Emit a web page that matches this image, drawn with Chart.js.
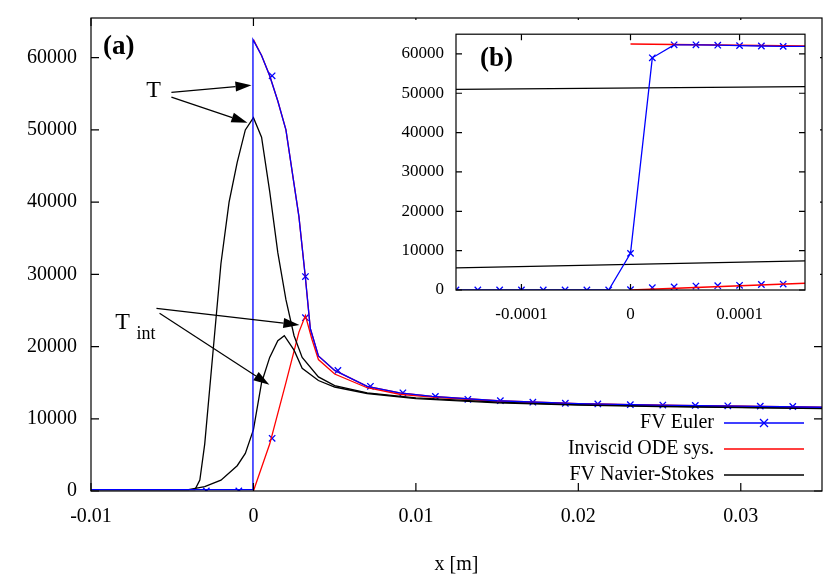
<!DOCTYPE html>
<html>
<head>
<meta charset="utf-8">
<script src="https://cdn.jsdelivr.net/npm/chart.js@4"></script>
<style>
  body { margin: 0; background: #fff; }
  #wrap { position: relative; width: 830px; height: 581px; }
  #main { position: absolute; left: 0; top: 0; }
  #inset { position: absolute; left: 400px; top: 20px; }
</style>
</head>
<body>
<div id="wrap">
  <canvas id="main" width="830" height="581"></canvas>
  <canvas id="inset" width="420" height="312"></canvas>
</div>
<script>
const FONT = '"Liberation Serif", "DejaVu Serif", serif';

// main panel (a)
const odeTX = [0, 0.0005, 0.001, 0.0015, 0.002, 0.0025, 0.0028, 0.0032, 0.0035, 0.004, 0.005, 0.007, 0.009, 0.011, 0.015, 0.02, 0.025, 0.03, 0.035];
const odeTY = [62500, 60300, 57500, 54000, 50000, 42500, 38000, 29500, 22500, 18700, 16700, 14500, 13600, 13100, 12500, 12100, 11900, 11750, 11600];
const odeTintX = [0, 0.001, 0.002, 0.0028, 0.0032, 0.0036, 0.004, 0.005, 0.007, 0.009, 0.011, 0.015, 0.02, 0.025, 0.03, 0.035];
const odeTintY = [0, 6500, 15000, 22000, 24300, 21000, 18200, 16200, 14300, 13400, 13000, 12400, 12050, 11850, 11700, 11550];
const nsTX = [-0.01, -0.0036, -0.0033, -0.003, -0.0025, -0.002, -0.0015, -0.001, -0.0005, 0, 0.0005, 0.001, 0.0015, 0.002, 0.0025, 0.003, 0.004, 0.005, 0.007, 0.01, 0.015, 0.02, 0.025, 0.03, 0.035];
const nsTY = [200, 200, 1500, 6500, 19000, 31500, 40000, 45500, 50000, 51700, 49000, 41500, 33000, 26500, 21500, 18500, 15800, 14600, 13600, 12900, 12300, 11950, 11750, 11600, 11450];
const nsTintX = [-0.01, -0.004, -0.003, -0.002, -0.001, -0.0005, 0, 0.0005, 0.001, 0.0015, 0.0019, 0.0025, 0.003, 0.004, 0.005, 0.007, 0.01, 0.015, 0.02, 0.025, 0.03, 0.035];
const nsTintY = [200, 200, 600, 1500, 3500, 5200, 8500, 15000, 18500, 20800, 21500, 19500, 17000, 15300, 14400, 13500, 12800, 12200, 11900, 11700, 11550, 11400];
const eulerMarkX = [-0.0029, -0.0009, 0.00115, 0.0032, 0.0052, 0.0072, 0.0092, 0.0112, 0.0132, 0.0152, 0.0172, 0.0192, 0.0212, 0.0232, 0.0252, 0.0272, 0.0292, 0.0312, 0.0332];
const eulerMarkY = [0, 0, 57500, 29700, 16700, 14500, 13600, 13100, 12700, 12500, 12300, 12150, 12050, 11950, 11900, 11850, 11800, 11750, 11700];
const eulerTintMarkX = [0.00115, 0.0032];
const eulerTintMarkY = [7300, 24000];
const mainXTicks = [-0.01, 0, 0.01, 0.02, 0.03];
const mainYTicks = [0, 10000, 20000, 30000, 40000, 50000, 60000];

// inset panel (b)
const inEulerX = [-0.00016, -0.00014, -0.00012, -0.0001, -0.00008, -0.00006, -0.00004, -0.00002, 0, 0.00002, 0.00004, 0.00006, 0.00008, 0.0001, 0.00012, 0.00014];
const inEulerY = [0, 0, 0, 0, 0, 0, 0, 0, 9300, 59000, 62300, 62300, 62200, 62100, 62000, 61900];
const inEulerTintX = [0, 0.00002, 0.00004, 0.00006, 0.00008, 0.0001, 0.00012, 0.00014];
const inEulerTintY = [100, 600, 800, 1000, 1100, 1200, 1400, 1500];
const inOdeX = [0, 0.00016];
const inOdeTY = [62500, 62000];
const inOdeTintY = [0, 1700];
const inNsX = [-0.00016, 0.00016];
const inNsTY = [51000, 51700];
const inNsTintY = [5600, 7400];
const insetXTicks = [-0.0001, 0, 0.0001];

const legendLabels = ['FV Euler', 'Inviscid ODE sys.', 'FV Navier-Stokes'];
const legendColors = ['#0000ff', '#ff0000', '#000000'];

const pts = (xs, ys) => xs.map((x, i) => ({ x, y: ys[i] }));

function lineSet(data, color, width) {
  return { data, showLine: true, borderColor: color, borderWidth: width || 1.3, pointRadius: 0, fill: false, tension: 0 };
}
function markSet(data) {
  return { data, showLine: false, pointStyle: 'crossRot', pointRadius: 4.5, borderColor: '#0000ff', borderWidth: 1.3 };
}

// gnuplot style frame with inward ticks on all sides
const framePlugin = {
  id: 'frame',
  afterDraw(chart) {
    const { ctx, chartArea: a, scales } = chart;
    const len = chart.options.tickIn || 8;
    ctx.save();
    ctx.strokeStyle = '#000';
    ctx.lineWidth = 1.2;
    ctx.strokeRect(a.left, a.top, a.right - a.left, a.bottom - a.top);
    ctx.beginPath();
    scales.x.ticks.forEach(t => {
      const px = scales.x.getPixelForValue(t.value);
      ctx.moveTo(px, a.bottom); ctx.lineTo(px, a.bottom - len);
      ctx.moveTo(px, a.top); ctx.lineTo(px, a.top + len);
    });
    scales.y.ticks.forEach(t => {
      const py = scales.y.getPixelForValue(t.value);
      ctx.moveTo(a.left, py); ctx.lineTo(a.left + len, py);
      ctx.moveTo(a.right, py); ctx.lineTo(a.right - len, py);
    });
    ctx.stroke();
    ctx.restore();
  }
};

function arrow(ctx, x1, y1, x2, y2) {
  const ang = Math.atan2(y2 - y1, x2 - x1);
  const hl = 16, hw = 5;
  ctx.beginPath();
  ctx.moveTo(x1, y1);
  ctx.lineTo(x2 - hl * Math.cos(ang), y2 - hl * Math.sin(ang));
  ctx.stroke();
  ctx.beginPath();
  ctx.moveTo(x2, y2);
  ctx.lineTo(x2 - hl * Math.cos(ang) + hw * Math.sin(ang), y2 - hl * Math.sin(ang) - hw * Math.cos(ang));
  ctx.lineTo(x2 - hl * Math.cos(ang) - hw * Math.sin(ang), y2 - hl * Math.sin(ang) + hw * Math.cos(ang));
  ctx.closePath();
  ctx.fill();
}

// labels, arrows and key of panel (a), positions in data units
const arrowsT = [[-0.00505, 55200, -0.00012, 56200], [-0.00505, 54550, -0.00037, 51000]];
const arrowsTint = [[-0.00597, 25300, 0.00283, 23000], [-0.00578, 24600, 0.00098, 14700]];

const notePlugin = {
  id: 'notes',
  afterDraw(chart) {
    const { ctx, scales: { x, y }, chartArea: a } = chart;
    const X = v => x.getPixelForValue(v), Y = v => y.getPixelForValue(v);
    ctx.save();
    ctx.fillStyle = '#000';
    ctx.strokeStyle = '#000';
    ctx.lineWidth = 1.2;
    ctx.font = 'bold 27px ' + FONT;
    ctx.textBaseline = 'alphabetic';
    ctx.fillText('(a)', a.left + 12, a.top + 36);
    ctx.font = '24px ' + FONT;
    ctx.fillText('T', X(-0.0066), Y(54500));
    ctx.fillText('T', X(-0.0085), Y(22500));
    ctx.font = '18px ' + FONT;
    ctx.fillText('int', X(-0.0072), Y(21000));
    [...arrowsT, ...arrowsTint].forEach(r => arrow(ctx, X(r[0]), Y(r[1]), X(r[2]), Y(r[3])));

    // key
    ctx.font = '20px ' + FONT;
    ctx.textAlign = 'right';
    ctx.textBaseline = 'middle';
    legendLabels.forEach((lab, i) => {
      const ly = a.bottom - 68 + i * 26;
      ctx.fillStyle = '#000';
      ctx.fillText(lab, a.right - 108, ly);
      ctx.strokeStyle = legendColors[i];
      ctx.lineWidth = 1.3;
      ctx.beginPath();
      ctx.moveTo(a.right - 98, ly); ctx.lineTo(a.right - 18, ly);
      ctx.stroke();
      if (i === 0) {
        ctx.beginPath();
        const cx = a.right - 58;
        ctx.moveTo(cx - 4, ly - 4); ctx.lineTo(cx + 4, ly + 4);
        ctx.moveTo(cx - 4, ly + 4); ctx.lineTo(cx + 4, ly - 4);
        ctx.stroke();
      }
    });
    ctx.restore();
  }
};

const whiteBg = {
  id: 'whiteBg',
  beforeDraw(chart) {
    const { ctx, width, height } = chart;
    ctx.save();
    ctx.fillStyle = '#fff';
    ctx.fillRect(0, 0, width, height);
    ctx.restore();
  }
};

function fmtTick(v, list) {
  const hit = list.find(t => Math.abs(t - v) < 1e-12);
  return hit === undefined ? null : String(hit);
}

Chart.defaults.font.family = FONT;
Chart.defaults.color = '#000';

new Chart(document.getElementById('main'), {
  type: 'scatter',
  data: {
    datasets: [
      lineSet([{ x: -0.01, y: 200 }, { x: -0.00003, y: 200 }, { x: -0.00003, y: 62500 }, ...pts(odeTX.slice(1), odeTY.slice(1))], '#0000ff'),
      lineSet(pts(nsTX, nsTY), '#000'),
      lineSet(pts(nsTintX, nsTintY), '#000'),
      lineSet(pts(odeTX, odeTY), '#ff0000'),
      lineSet(pts(odeTintX, odeTintY), '#ff0000'),
      markSet(pts(eulerMarkX, eulerMarkY)),
      markSet(pts(eulerTintMarkX, eulerTintMarkY))
    ]
  },
  options: {
    responsive: false,
    animation: false,
    tickIn: 8,
    layout: { padding: { top: 10, right: 8, left: 0, bottom: 0 } },
    plugins: { legend: { display: false }, tooltip: { enabled: false } },
    scales: {
      x: {
        type: 'linear', min: -0.01, max: 0.035,
        afterBuildTicks: s => { s.ticks = mainXTicks.map(v => ({ value: v })); },
        afterFit: s => { s.height = 90; },
        grid: { display: false },
        border: { display: false },
        ticks: { font: { size: 20 }, padding: 6, maxRotation: 0, callback: v => fmtTick(v, mainXTicks) },
        title: { display: true, text: 'x [m]', font: { size: 20 }, padding: { top: 14 } }
      },
      y: {
        type: 'linear', min: 0, max: 65500,
        afterBuildTicks: s => { s.ticks = mainYTicks.map(v => ({ value: v })); },
        afterFit: s => { s.width = 91; },
        grid: { display: false },
        border: { display: false },
        ticks: { font: { size: 20 }, padding: 6, callback: v => String(v) }
      }
    }
  },
  plugins: [whiteBg, framePlugin, notePlugin]
});

const insetNote = {
  id: 'insetNote',
  afterDraw(chart) {
    const { ctx, chartArea: a } = chart;
    ctx.save();
    ctx.font = 'bold 27px ' + FONT;
    ctx.fillStyle = '#000';
    ctx.fillText('(b)', a.left + 24, a.top + 32);
    ctx.restore();
  }
};

new Chart(document.getElementById('inset'), {
  type: 'scatter',
  data: {
    datasets: [
      lineSet(pts(inEulerX.concat([0.00016]), inEulerY.concat([61900])), '#0000ff'),
      lineSet(pts(inNsX, inNsTY), '#000'),
      lineSet(pts(inNsX, inNsTintY), '#000'),
      lineSet(pts(inOdeX, inOdeTY), '#ff0000', 1.6),
      lineSet(pts(inOdeX, inOdeTintY), '#ff0000', 1.6),
      markSet(pts(inEulerX, inEulerY)),
      markSet(pts(inEulerTintX, inEulerTintY))
    ]
  },
  options: {
    responsive: false,
    animation: false,
    tickIn: 6,
    layout: { padding: { top: 9, right: 15, left: 0, bottom: 0 } },
    plugins: { legend: { display: false }, tooltip: { enabled: false } },
    scales: {
      x: {
        type: 'linear', min: -0.00016, max: 0.00016,
        afterBuildTicks: s => { s.ticks = insetXTicks.map(v => ({ value: v })); },
        afterFit: s => { s.height = 42; },
        grid: { display: false },
        border: { display: false },
        ticks: { font: { size: 17 }, padding: 6, maxRotation: 0, callback: v => fmtTick(v, insetXTicks) }
      },
      y: {
        type: 'linear', min: 0, max: 65000,
        afterBuildTicks: s => { s.ticks = mainYTicks.map(v => ({ value: v })); },
        afterFit: s => { s.width = 56; },
        grid: { display: false },
        border: { display: false },
        ticks: { font: { size: 17 }, padding: 4, callback: v => String(v) }
      }
    }
  },
  plugins: [whiteBg, framePlugin, insetNote]
});
</script>
</body>
</html>
